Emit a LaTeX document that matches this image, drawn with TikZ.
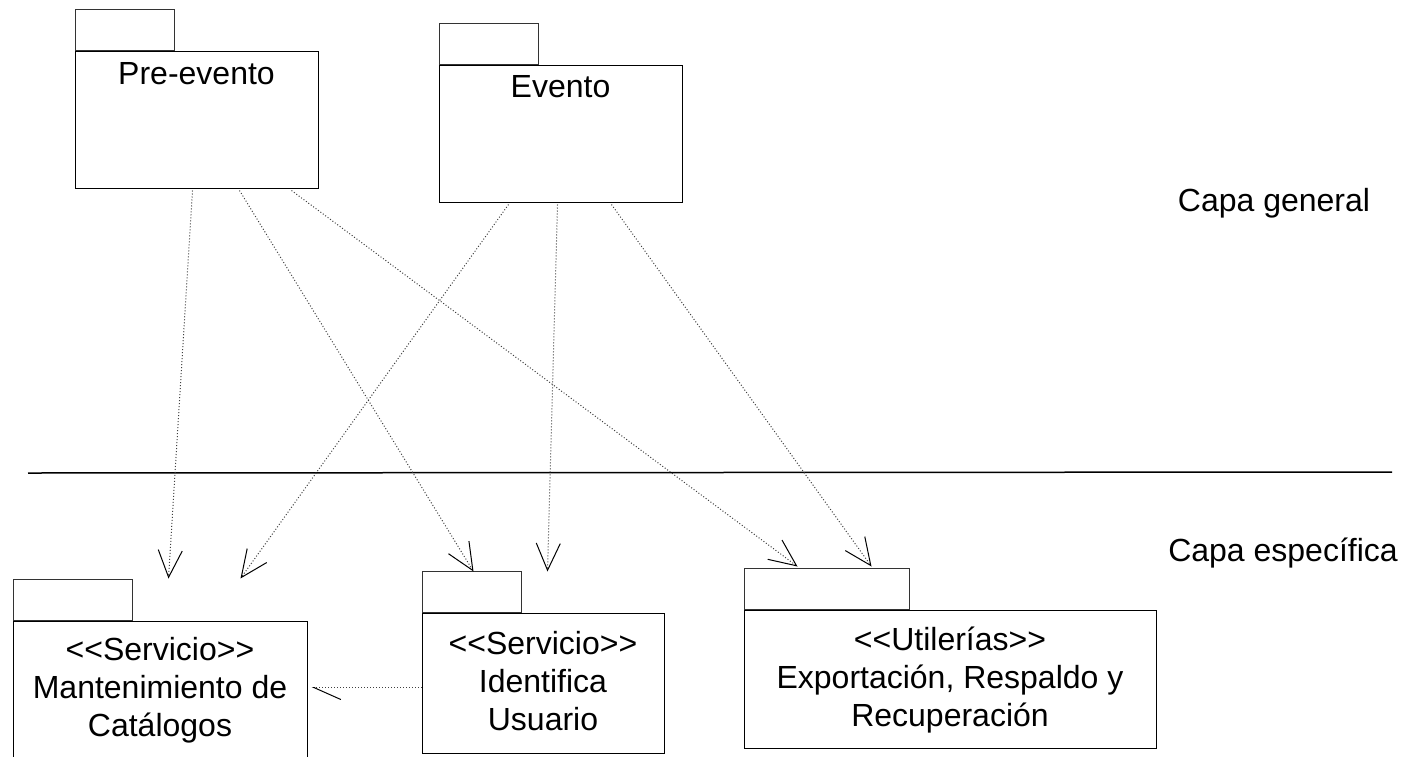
\documentclass[tikz,border=0pt]{standalone}
\usepackage{fontspec}
\setmainfont{Liberation Sans}
\usetikzlibrary{arrows.meta, positioning, calc}
\tikzset{
    pkg/.style={
        rectangle,
        draw=black,
        line width=0.5pt,
        fill=white,
        inner sep=0pt
    },
    pkgtab/.style={
        rectangle,
        draw=black!80,
        line width=0.5pt,
        minimum height=20.5pt,
        inner sep=0pt,
        anchor=south west
    },
    pkgtext/.style={
        align=center,
        inner sep=0pt,
        anchor=north,
        font=\fontsize{16}{19}\selectfont
    },
    dep/.style={
        draw=black!75,
        densely dotted,
        line width=0.5pt,
        -{Straight Barb[length=13.5pt, width=12pt, black]}
    },
    halfdep/.style={
        draw=black!75,
        densely dotted,
        line width=0.5pt,
        -{Straight Barb[length=13.5pt, width=12pt, black, left]}
    },
    layer/.style={
        font=\fontsize{16}{19}\selectfont
    }
}

\begin{document}
\begin{tikzpicture}[x=0.5pt, y=-0.5pt]

    \useasboundingbox (0,0) rectangle (1408,756);

    % General layer
    \node[pkg, minimum width=121.5pt, minimum height=68.5pt,
          label={[pkgtext, yshift=-6pt]north:Pre-evento}] (pre) at (196.5,119.5) {};
    \node[pkgtab, minimum width=49.5pt] (pretab) at (pre.north west) {};

    \node[pkg, minimum width=121.5pt, minimum height=68.5pt,
          label={[pkgtext, yshift=-5.5pt]north:Evento}] (evt) at (560.5,133.5) {};
    \node[pkgtab, minimum width=49.5pt] (evttab) at (evt.north west) {};

    \node[layer] (capagen) at (1274,203) {Capa general};

    % Separator
    \coordinate (sepL) at (28,473);
    \coordinate (sepR) at (1392,472);
    \draw[line width=0.75pt] (sepL) -- (sepR);

    \node[layer] (capaesp) at (1283,553) {Capa específica};

    % Specific layer
    \node[pkg, minimum width=147pt, minimum height=68.5pt,
          label={[pkgtext, yshift=-8pt]north:{<{}<Servicio>{}>\\Mantenimiento de\\Catálogos}}] (mant) at (160,689.5) {};
    \node[pkgtab, minimum width=59.5pt] (manttab) at (mant.north west) {};

    \node[pkg, minimum width=121pt, minimum height=70pt,
          label={[pkgtext, yshift=-9pt]north:{<{}<Servicio>{}>\\Identifica\\Usuario}}] (ident) at (543,683) {};
    \node[pkgtab, minimum width=49.5pt] (identtab) at (ident.north west) {};

    \node[pkg, minimum width=206pt, minimum height=69pt,
          label={[pkgtext, yshift=-8.5pt]north:{<{}<Utilerías>{}>\\Exportación, Respaldo y\\Recuperación}}] (util) at (950,679) {};
    \node[pkgtab, minimum width=82.5pt] (utiltab) at (util.north west) {};

    % Dependencies
    \draw[dep] ($(pre.south west)+(118,2)$) -- ($(mant.north west)+(156,-42)$);
    \draw[dep] ($(pre.south west)+(165,2)$) -- ($(ident.north west)+(52,-41)$);
    \draw[dep] ($(pre.south west)+(217,2)$) -- ($(util.north west)+(54,-43)$);

    \draw[dep] ($(evt.south west)+(70,2)$) -- ($(mant.north west)+(228,-42)$);
    \draw[dep] ($(evt.south west)+(119,2)$) -- ($(ident.north west)+(126,-41)$);
    \draw[dep] ($(evt.south west)+(173,2)$) -- ($(util.north west)+(128,-43)$);

    \coordinate (manttip) at ($(mant.east)+(4,-2)$);
    \draw[halfdep] (ident.west |- manttip) -- (manttip);

\end{tikzpicture}
\end{document}
